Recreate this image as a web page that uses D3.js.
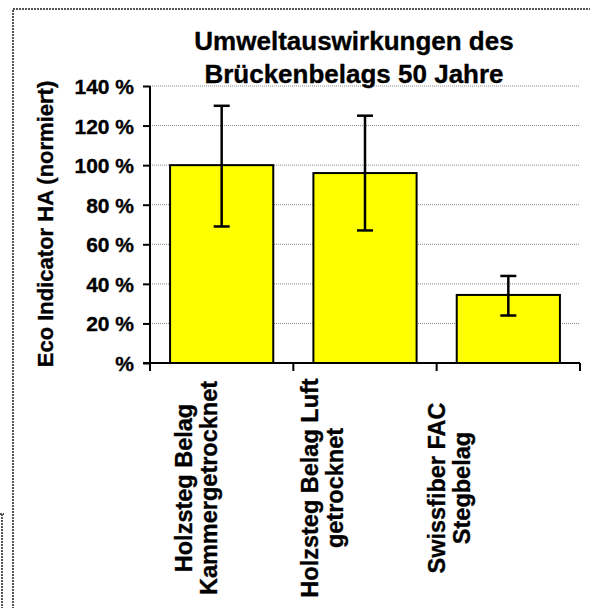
<!DOCTYPE html>
<html>
<head>
<meta charset="utf-8">
<script src="https://cdn.jsdelivr.net/npm/d3@7"></script>
<style>
  body { margin: 0; background: #fff; }
  svg { display: block; font-family: "Liberation Sans", Arial, sans-serif; font-weight: bold; }
  text { stroke: #000; stroke-width: 0.35px; fill: #000; }
</style>
</head>
<body>
<script>
(function(){

//chart data
var categories = [
    ["Holzsteg Belag", "Kammergetrocknet"],
    ["Holzsteg Belag Luft", "getrocknet"],
    ["Swissfiber FAC", "Stegbelag"]
];
var values = [100, 96, 34.4];   //Eco Indicator, normiert in %
var errHigh = [130, 125, 44];
var errLow = [69, 67, 24];
var yTicks = [0, 20, 40, 60, 80, 100, 120, 140];
var yTickLabels = [" %", "20 %", "40 %", "60 %", "80 %", "100 %", "120 %", "140 %"];
var titleLines = ["Umweltauswirkungen des", "Brückenbelags 50 Jahre"];
var yTitle = "Eco Indicator HA (normiert)";

var width = 590,
    height = 608,
    plotLeft = 150,
    plotRight = 580,
    plotTop = 86,
    plotBottom = 363;

var svg = d3.select("body")
    .append("svg")
    .attr("width", width)
    .attr("height", height);

//dotted frame of the chart area
var frame = svg.append("g")
    .attr("fill", "none")
    .attr("stroke", "#555")
    .attr("stroke-width", 2)
    .attr("stroke-dasharray", "2,1");
frame.append("path").attr("d", "M13,609 V9 H591");
frame.append("path").attr("d", "M0,514 H4 M2,514 V609");

//scales
var x = d3.scaleBand()
    .domain(d3.range(categories.length))
    .range([plotLeft, plotRight])
    .paddingInner(0.28)
    .paddingOuter(0.14);

var y = d3.scaleLinear()
    .domain([0, 140])
    .range([plotBottom, plotTop]);

//gridlines
svg.append("g")
    .selectAll("line")
    .data(yTicks.slice(1))
    .enter()
    .append("line")
    .attr("x1", plotLeft)
    .attr("x2", plotRight)
    .attr("y1", function(d){ return y(d); })
    .attr("y2", function(d){ return y(d); })
    .attr("stroke", "#888")
    .attr("stroke-width", 1)
    .attr("stroke-dasharray", "1,1");

//bars
svg.append("g")
    .selectAll("rect")
    .data(values)
    .enter()
    .append("rect")
    .attr("x", function(d, i){ return x(i); })
    .attr("y", function(d){ return y(d); })
    .attr("width", x.bandwidth())
    .attr("height", function(d){ return y(0) - y(d); })
    .attr("fill", "#ffff00")
    .attr("stroke", "#000")
    .attr("stroke-width", 2);

//error bars
var err = svg.append("g")
    .attr("stroke", "#000")
    .attr("stroke-width", 2.5)
    .selectAll("g")
    .data(values)
    .enter()
    .append("g");
err.append("line")
    .attr("x1", function(d, i){ return x(i) + x.bandwidth() / 2; })
    .attr("x2", function(d, i){ return x(i) + x.bandwidth() / 2; })
    .attr("y1", function(d, i){ return y(errLow[i]); })
    .attr("y2", function(d, i){ return y(errHigh[i]); });
[errLow, errHigh].forEach(function(arr){
    err.append("line")
        .attr("x1", function(d, i){ return x(i) + x.bandwidth() / 2 - 8; })
        .attr("x2", function(d, i){ return x(i) + x.bandwidth() / 2 + 8; })
        .attr("y1", function(d, i){ return y(arr[i]); })
        .attr("y2", function(d, i){ return y(arr[i]); });
});

//y axis
var yAxis = d3.axisLeft(y)
    .tickValues(yTicks)
    .tickSize(7)
    .tickPadding(9)
    .tickFormat(function(d, i){ return yTickLabels[i]; });

var yG = svg.append("g")
    .attr("transform", "translate(" + plotLeft + ",0)")
    .call(yAxis);
yG.select(".domain").attr("stroke-width", 2).attr("d", "M0," + plotTop + "V" + plotBottom);
yG.selectAll(".tick line").attr("stroke-width", 2);
yG.selectAll("text")
    .attr("fill", "#000")
    .style("font-size", "21px")
    .style("font-family", "Liberation Sans, Arial, sans-serif")
    .style("font-weight", "bold")
    .attr("dy", "0.36em");

//x axis line with category boundary ticks
var bounds = d3.range(categories.length + 1).map(function(i){
    return plotLeft + i * (plotRight - plotLeft) / categories.length;
});
var xG = svg.append("g").attr("stroke", "#000").attr("stroke-width", 2);
xG.append("line")
    .attr("x1", plotLeft - 7)
    .attr("x2", plotRight)
    .attr("y1", y(0))
    .attr("y2", y(0));
xG.selectAll(".xt")
    .data(bounds)
    .enter()
    .append("line")
    .attr("class", "xt")
    .attr("x1", function(d){ return d; })
    .attr("x2", function(d){ return d; })
    .attr("y1", y(0))
    .attr("y2", y(0) + 8);

//category labels, rotated
var labelX = d3.scalePoint()
    .domain(d3.range(categories.length))
    .range([196, 449]);

var labels = svg.append("g")
    .selectAll("text")
    .data(categories)
    .enter()
    .append("text")
    .attr("transform", function(d, i){
        return "translate(" + labelX(i) + ",488) rotate(-90)";
    })
    .attr("text-anchor", "middle")
    .style("font-size", "23.5px");
labels.selectAll("tspan")
    .data(function(d){ return d; })
    .enter()
    .append("tspan")
    .attr("x", 0)
    .attr("y", function(d, i, nodes){ return (i - (nodes.length - 1) / 2) * 25 + 8; })
    .text(function(d){ return d; });

//y axis title
svg.append("text")
    .attr("transform", "translate(53,224) rotate(-90)")
    .attr("text-anchor", "middle")
    .style("font-size", "22px")
    .text(yTitle);

//chart title
svg.append("g")
    .selectAll("text")
    .data(titleLines)
    .enter()
    .append("text")
    .attr("x", 354)
    .attr("y", function(d, i){ return 50 + i * 33; })
    .attr("text-anchor", "middle")
    .style("font-size", "26px")
    .text(function(d){ return d; });

})();
</script>
</body>
</html>
